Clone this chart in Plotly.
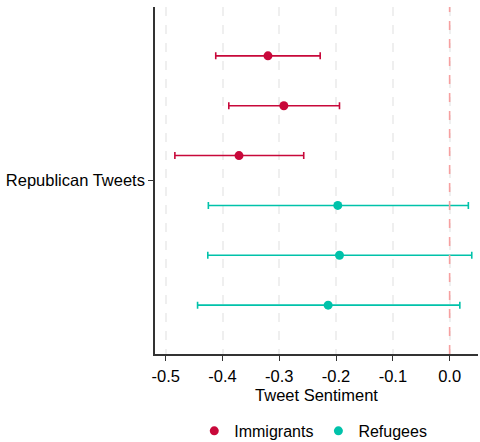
import plotly.graph_objects as go

# Estimated tweet sentiment with confidence intervals, by target group
groups = ["Immigrants", "Immigrants", "Immigrants", "Refugees", "Refugees", "Refugees"]
estimates = [-0.320, -0.292, -0.371, -0.197, -0.194, -0.214]
lower = [-0.412, -0.389, -0.484, -0.425, -0.426, -0.444]
upper = [-0.228, -0.194, -0.257, 0.033, 0.039, 0.018]
row_positions = [1, 2, 3, 4, 5, 6]
category_label = "Republican Tweets"
x_ticks = [-0.5, -0.4, -0.3, -0.2, -0.1, 0.0]
x_tick_text = ["-0.5", "-0.4", "-0.3", "-0.2", "-0.1", "0.0"]

colors = {"Immigrants": "#C8083A", "Refugees": "#00C2AA"}

fig = go.Figure()
for name in ["Immigrants", "Refugees"]:
    idx = [i for i, g in enumerate(groups) if g == name]
    xs = [estimates[i] for i in idx]
    ys = [row_positions[i] for i in idx]
    plus = [upper[i] - estimates[i] for i in idx]
    minus = [estimates[i] - lower[i] for i in idx]
    fig.add_trace(go.Scatter(
        x=xs, y=ys, mode="markers", name=name,
        marker=dict(color=colors[name], size=9),
        error_x=dict(type="data", symmetric=False, array=plus, arrayminus=minus,
                     color=colors[name], thickness=1.6, width=3.5),
    ))

# reference line at zero
fig.add_shape(type="line", x0=0, x1=0, xref="x", y0=0, y1=1, yref="paper",
              line=dict(color="#F6A0A0", width=1.6, dash="dash"), layer="above")

fig.update_layout(
    width=480, height=442,
    margin=dict(l=155, r=2, t=7, b=88, autoexpand=False),
    plot_bgcolor="white", paper_bgcolor="white",
    font=dict(family="Liberation Sans, Arial, sans-serif", size=16.5, color="black"),
    showlegend=True,
    legend=dict(orientation="h", x=0.49, xanchor="center", xref="paper",
                y=0.025, yanchor="middle", yref="container",
                font=dict(size=16), itemwidth=30, tracegroupgap=0),
    xaxis=dict(range=[-0.519, 0.05], tickvals=x_ticks, ticktext=x_tick_text,
               showgrid=True, gridcolor="#EFEFEF", griddash="dash", gridwidth=1.5,
               zeroline=False, showline=True, linecolor="#333333", linewidth=1.5,
               ticks="outside", ticklen=5, tickcolor="#333333", tickwidth=1.2,
               ticklabelstandoff=1, automargin=False,
               title=dict(text="Tweet Sentiment", standoff=6, font=dict(size=16.5)),
               tickfont=dict(size=16.5)),
    yaxis=dict(range=[6.98, 0.02], tickvals=[3.5], ticktext=[category_label],
               showgrid=False, zeroline=False, showline=True, linecolor="#333333",
               linewidth=1.5, ticks="outside", ticklen=5, tickcolor="#333333",
               tickwidth=1.2, tickfont=dict(size=16.5), automargin=False),
)

fig.write_html("out.html")
